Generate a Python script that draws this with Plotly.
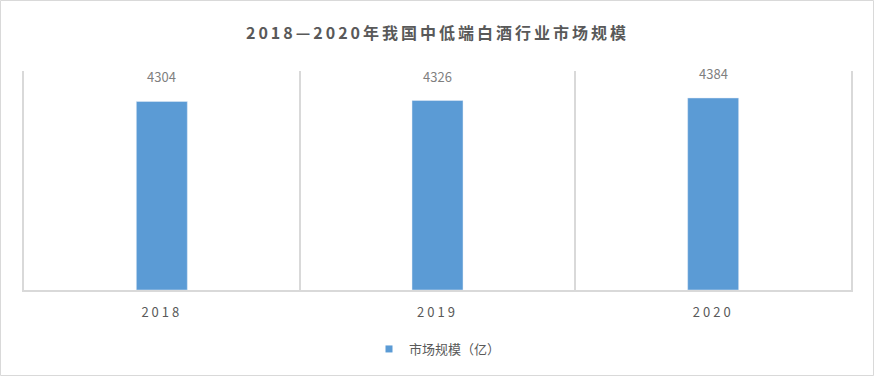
import plotly.graph_objects as go

categories = ["2018", "2019", "2020"]
values = [4304, 4326, 4384]
series_name = "市场规模（亿）"
title_text = "2018—2020年我国中低端白酒行业市场规模"

W, H = 875, 377
ML, MR, MT, MB = 24, 24, 71, 87
FONT = "Noto Sans CJK SC, Microsoft YaHei, sans-serif"
GRAY = "#595959"
LABEL = "#7f7f7f"
BLUE = "#5b9bd5"
LINE = "#d9d9d9"

fig = go.Figure()
fig.add_trace(go.Bar(x=categories, y=values, marker_color=BLUE, width=0.185,
                     showlegend=False, hoverinfo="x+y"))
fig.add_trace(go.Scatter(x=[None], y=[None], mode="markers", name=series_name,
                         marker=dict(symbol="square", size=7, color=BLUE)))

for i, v in enumerate(values):
    fig.add_annotation(x=i, y=v, xref="x", yref="y", text=str(v), showarrow=False,
                       yanchor="bottom", yshift=13,
                       font=dict(size=13, color=LABEL, family=FONT))

pw = W - ML - MR
ph = H - MT - MB
fig.add_shape(type="rect", xref="paper", yref="paper",
              x0=(0.5 - ML) / pw, x1=1 + (MR - 1.5) / pw,
              y0=-(MB - 1.5) / ph, y1=1 + (MT - 0.5) / ph,
              line=dict(color=LINE, width=1), layer="below")

fig.update_layout(
    width=W, height=H,
    margin=dict(l=ML, r=MR, t=MT, b=MB),
    paper_bgcolor="white", plot_bgcolor="white",
    font=dict(family=FONT, color=GRAY, size=13),
    title=dict(text=title_text, x=0.5, xanchor="center", y=1 - 33 / H, yanchor="middle",
               font=dict(size=16, color=GRAY, family=FONT, weight="bold")),
    xaxis=dict(type="category", tickson="boundaries", showgrid=True, gridcolor=LINE,
               gridwidth=1.5, showline=True, linecolor=LINE, linewidth=1.5,
               ticks="", ticklabelstandoff=10, tickfont=dict(size=13, color=GRAY),
               range=[-0.5, 2.5], zeroline=False),
    yaxis=dict(range=[0, 5000], showgrid=False, showticklabels=False, zeroline=False,
               showline=True, mirror=True, linecolor=LINE, linewidth=1.5, ticks=""),
    legend=dict(orientation="h", x=0.5, xanchor="center", y=-(349 - (H - MB)) / ph,
                yanchor="middle", font=dict(size=13, color=GRAY), itemwidth=30),
)

post = """
document.querySelectorAll('.gtitle').forEach(function(e){e.style.letterSpacing='3px';});
document.querySelectorAll('.xtick text').forEach(function(e){e.style.letterSpacing='3px';});
"""
fig.write_html("out.html", post_script=post)
